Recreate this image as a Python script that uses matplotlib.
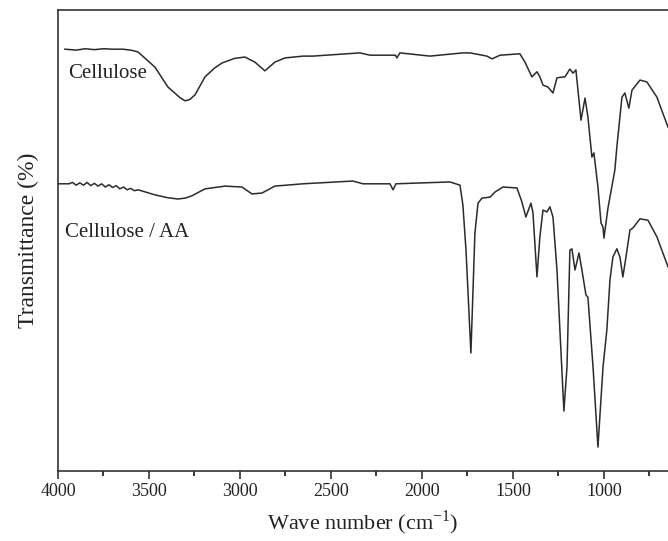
import numpy as np
import matplotlib.pyplot as plt
from matplotlib.ticker import MultipleLocator

plt.rcParams['font.family'] = ['Liberation Serif', 'DejaVu Serif']

# Cellulose spectrum (wave number, transmittance)
wn_cell = [3962, 3900, 3850, 3800, 3750, 3700, 3643, 3600, 3560, 3467, 3396, 3330, 3302,
           3275, 3247, 3192, 3140, 3099, 3030, 2973, 2918, 2863, 2808, 2753, 2654, 2599,
           2341, 2286, 2145, 2138, 2121, 1956, 1775, 1736, 1643, 1615, 1571, 1462, 1434,
           1396, 1368, 1352, 1335, 1308, 1280, 1258, 1214, 1187, 1170, 1154, 1126, 1104,
           1088, 1066, 1055, 1033, 1016, 1005, 1000, 978, 967, 940, 929, 901, 885, 863,
           846, 802, 764, 709, 648]
t_cell = [91.5, 91.3, 91.6, 91.4, 91.6, 91.5, 91.5, 91.3, 90.9, 87.6, 83.3, 81.0, 80.3,
          80.6, 81.6, 85.5, 87.4, 88.5, 89.5, 89.8, 88.7, 86.8, 88.7, 89.6, 90.0, 90.0,
          90.7, 90.2, 90.2, 89.6, 90.7, 90.0, 90.7, 90.7, 90.0, 89.4, 90.2, 90.5, 88.7,
          85.5, 86.6, 85.5, 83.7, 83.3, 82.0, 85.3, 85.5, 87.2, 86.3, 87.0, 76.1, 80.9,
          76.8, 68.1, 69.0, 61.6, 53.8, 52.9, 50.5, 57.0, 59.4, 65.3, 70.3, 81.1, 82.0,
          78.7, 82.6, 84.8, 84.4, 81.1, 74.6]

# Cellulose / AA spectrum
wn_aa = [4000, 3940, 3920, 3900, 3880, 3860, 3840, 3820, 3800, 3780, 3760, 3740, 3720,
         3700, 3680, 3660, 3640, 3620, 3600, 3580, 3560, 3467, 3400, 3341, 3300, 3264,
         3192, 3082, 2989, 2934, 2879, 2808, 2654, 2379, 2324, 2176, 2159, 2143, 1995,
         1846, 1791, 1775, 1758, 1731, 1709, 1692, 1670, 1626, 1599, 1555, 1478, 1451,
         1429, 1401, 1390, 1368, 1352, 1335, 1313, 1297, 1280, 1258, 1242, 1220, 1203,
         1187, 1176, 1159, 1137, 1121, 1099, 1088, 1060, 1033, 1005, 984, 967, 951, 929,
         912, 896, 879, 857, 841, 802, 758, 709, 648]
t_aa = [62.3, 62.3, 62.6, 62.0, 62.5, 62.0, 62.6, 61.9, 62.4, 61.8, 62.3, 61.6, 62.1,
        61.5, 61.9, 61.2, 61.6, 61.0, 61.3, 60.8, 61.0, 59.9, 59.3, 59.0, 59.2, 59.7,
        61.2, 61.8, 61.6, 60.1, 60.3, 61.8, 62.3, 62.9, 62.3, 62.3, 61.0, 62.3, 62.5,
        62.7, 62.0, 57.7, 47.9, 25.6, 51.6, 58.1, 59.2, 59.4, 60.5, 61.6, 61.4, 58.4,
        55.1, 58.1, 56.0, 42.1, 50.8, 56.6, 56.2, 57.3, 55.1, 43.6, 30.6, 13.0, 22.6,
        47.9, 48.2, 43.6, 47.3, 43.6, 38.2, 37.7, 22.6, 5.2, 22.6, 30.6, 41.4, 46.4,
        48.2, 46.4, 42.1, 46.4, 52.3, 52.7, 54.7, 54.4, 50.8, 44.3]

labels = ["Cellulose", "Cellulose / AA"]

fig = plt.figure(figsize=(6.68, 5.41), dpi=100)
ax = fig.add_axes([0.0868, 0.1294, 0.9132, 0.8521])

ax.plot(wn_cell, t_cell, color='#2b2b2b', lw=1.1)
ax.plot(wn_aa, t_aa, color='#2b2b2b', lw=1.1)

ax.text(3945, 86.3, labels[0], fontsize=15, va='center', ha='left', color='#222222')
ax.text(3962, 51.8, labels[1], fontsize=15, va='center', ha='left', color='#222222')

ax.set_xlim(4000, 648)
ax.set_ylim(0, 100)
ax.xaxis.set_major_locator(MultipleLocator(500))
ax.xaxis.set_minor_locator(MultipleLocator(250))
ax.set_yticks([])
ax.tick_params(axis='x', which='major', direction='out', length=6, width=1.1,
               labelsize=13, pad=3, colors='#222222')
ax.tick_params(axis='x', which='minor', direction='out', length=3.5, width=1.1)
ax.spines['right'].set_visible(False)
for s in ['left', 'top', 'bottom']:
    ax.spines[s].set_linewidth(1.2)
    ax.spines[s].set_color('#333333')

ax.set_xlabel("Wave number (cm$^{\\mathregular{-1}}$)", fontsize=16, labelpad=6, color='#222222')
ax.set_ylabel("Transmittance (%)", fontsize=17, labelpad=14, color='#222222')

plt.savefig("out.png", dpi=100)
